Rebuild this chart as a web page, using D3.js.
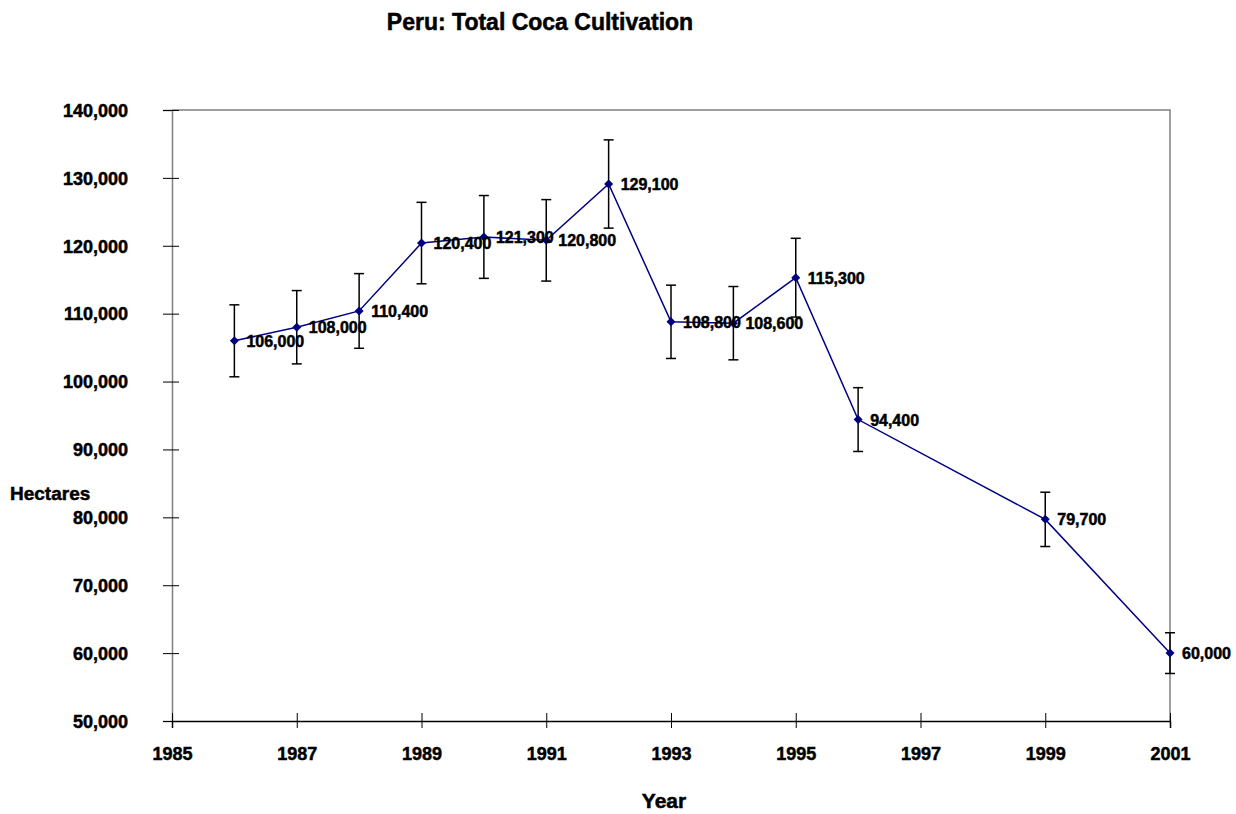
<!DOCTYPE html>
<html lang="en">

<head>
    <meta charset="UTF-8">
    <title>Peru: Total Coca Cultivation</title>
    <script src="https://d3js.org/d3.v7.min.js"></script>
    <style>
        body { margin: 0; background: #fff; }
        text { font-family: "Liberation Sans", Arial, sans-serif; font-weight: bold; fill: #000; stroke: #000; stroke-width: 0.5px; }
    </style>
</head>

<body>
    <svg id="cocaChart" width="1236" height="814"></svg>

    <script>
        // data
        const years = [1986, 1987, 1988, 1989, 1990, 1991, 1992, 1993, 1994, 1995, 1996, 1999, 2001];
        const hectares = [106000, 108000, 110400, 120400, 121300, 120800, 129100, 108800, 108600, 115300, 94400, 79700, 60000];
        const errors = [5300, 5400, 5500, 6000, 6100, 6000, 6500, 5400, 5400, 5800, 4700, 4000, 3000];
        const xTicks = [1985, 1987, 1989, 1991, 1993, 1995, 1997, 1999, 2001];
        const yTicks = [50000, 60000, 70000, 80000, 90000, 100000, 110000, 120000, 130000, 140000];

        const svg = d3.select("#cocaChart");
        const margin = { top: 110, right: 66, bottom: 93, left: 172 };
        const width = +svg.attr("width") - margin.left - margin.right;
        const height = +svg.attr("height") - margin.top - margin.bottom;
        const g = svg.append("g").attr("transform", `translate(${margin.left},${margin.top})`);

        const x = d3.scaleLinear().domain([1985, 2001]).range([0, width]);
        const y = d3.scaleLinear().domain([50000, 140000]).range([height, 0]);

        const data = years.map((yr, i) => ({ year: yr, value: hectares[i], err: errors[i] }));

        // frame (top and right)
        g.append("path")
            .attr("d", `M0,0H${width}V${height}`)
            .attr("fill", "none")
            .attr("stroke", "#808080")
            .attr("stroke-width", 1.5);

        // y axis
        const yAxis = g.append("g")
            .call(d3.axisLeft(y).tickValues(yTicks).tickSize(9).tickPadding(35).tickFormat(d3.format(",")));
        yAxis.select(".domain").attr("stroke", "#808080").attr("stroke-width", 1.5);
        yAxis.selectAll(".tick line").attr("x2", 7).attr("x1", -9).attr("stroke", "#000");
        yAxis.selectAll(".tick text").attr("font-size", 18).attr("dy", "0.35em")
            .style("font-family", "'Liberation Sans', Arial, sans-serif").style("font-weight", "bold");

        // x axis
        const xAxis = g.append("g")
            .attr("transform", `translate(0,${height})`)
            .call(d3.axisBottom(x).tickValues(xTicks).tickSize(7).tickPadding(19).tickFormat(d3.format("d")));
        xAxis.select(".domain").attr("stroke", "#000").attr("stroke-width", 1.5);
        xAxis.selectAll(".tick line").attr("y1", -8).attr("y2", 7).attr("stroke", "#000");
        xAxis.selectAll(".tick text").attr("font-size", 18)
            .style("font-family", "'Liberation Sans', Arial, sans-serif").style("font-weight", "bold");

        // error bars
        const eb = g.append("g").attr("stroke", "#000").attr("stroke-width", 1.5);
        data.forEach(d => {
            const cx = x(d.year);
            const top = y(d.value + d.err);
            const bot = y(d.value - d.err);
            eb.append("line").attr("x1", cx).attr("x2", cx).attr("y1", top).attr("y2", bot);
            eb.append("line").attr("x1", cx - 5).attr("x2", cx + 5).attr("y1", top).attr("y2", top);
            eb.append("line").attr("x1", cx - 5).attr("x2", cx + 5).attr("y1", bot).attr("y2", bot);
        });

        // line
        const line = d3.line()
            .x(d => x(d.year))
            .y(d => y(d.value));

        g.append("path")
            .datum(data)
            .attr("fill", "none")
            .attr("stroke", "#000080")
            .attr("stroke-width", 1.5)
            .attr("d", line);

        // diamond markers
        g.selectAll(".pt")
            .data(data)
            .enter().append("path")
            .attr("class", "pt")
            .attr("transform", d => `translate(${x(d.year)},${y(d.value)})`)
            .attr("d", "M0,-4.5L4.5,0L0,4.5L-4.5,0Z")
            .attr("fill", "#000080");

        // data labels
        g.selectAll(".lbl")
            .data(data)
            .enter().append("text")
            .attr("class", "lbl")
            .attr("x", d => x(d.year) + 12)
            .attr("y", d => y(d.value) + 6)
            .attr("font-size", 16)
            .text(d => d3.format(",")(d.value));

        // titles
        svg.append("text")
            .attr("x", 540)
            .attr("y", 30)
            .attr("text-anchor", "middle")
            .attr("font-size", 23)
            .text("Peru: Total Coca Cultivation");

        svg.append("text")
            .attr("x", 10)
            .attr("y", 500)
            .attr("font-size", 19)
            .text("Hectares");

        svg.append("text")
            .attr("x", 664)
            .attr("y", 808)
            .attr("text-anchor", "middle")
            .attr("font-size", 21)
            .text("Year");
    </script>

</body>

</html>
